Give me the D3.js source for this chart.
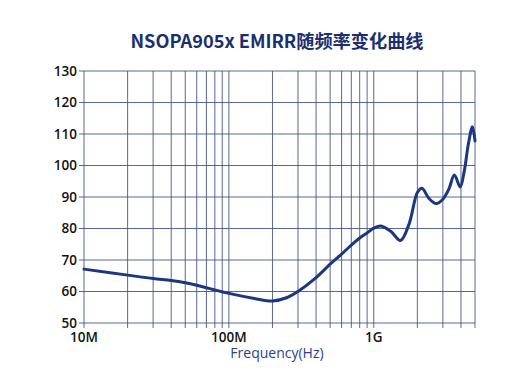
<!DOCTYPE html>
<html>
<head>
<meta charset="utf-8">
<script src="https://cdn.jsdelivr.net/npm/d3@7"></script>
<style>
  body { margin: 0; background: #fff; }
  text { font-family: "Open Sans", "Noto Sans", sans-serif; }
</style>
</head>
<body>
<svg id="chart"></svg>
<script>
// EMIRR curve
const freqs = [10e6, 20e6, 30e6, 40e6, 50e6, 60e6, 70e6, 80e6, 100e6, 150e6, 200e6, 253e6, 300e6, 400e6,
  500e6, 600e6, 700e6, 800e6, 900e6, 1e9, 1.12e9, 1.31e9, 1.53e9, 1.75e9, 2e9, 2.15e9, 2.4e9, 2.7e9, 3e9, 3.3e9, 3.6e9,
  3.95e9, 4.2e9, 4.5e9, 4.8e9, 5e9];
const emirr = [67.1, 65.2, 64.1, 63.5, 62.8, 62.0, 61.2, 60.5, 59.4, 57.8, 57.0, 58.1, 60.0, 64.4,
  68.7, 71.9, 74.7, 77.0, 78.6, 80.1, 80.8, 79.1, 76.2, 81.3, 91.4, 92.8, 89.6, 87.9, 89.3, 92.5, 97.0,
  93.2, 97.8, 106.8, 112.3, 107.8];
const yTicks = [50, 60, 70, 80, 90, 100, 110, 120, 130];
const xGrid = [1, 2, 3, 4, 5, 6, 7, 8, 9, 10, 20, 30, 40, 50, 60, 70, 80, 90, 100, 200, 300, 400, 500].map(d => d * 1e7);
const xLabels = [[1e7, "10M"], [1e8, "100M"], [1e9, "1G"]];

const width = 526, height = 378;
const margin = {top: 71, right: 51, bottom: 55, left: 84};

const svg = d3.select("#chart")
    .attr("width", width)
    .attr("height", height);

const x = d3.scaleLog().domain([1e7, 5e9]).range([margin.left, width - margin.right]);
const y = d3.scaleLinear().domain([50, 130]).range([height - margin.bottom, margin.top]);

const gridColor = "#3d4f86";

// title
svg.append("text")
    .attr("x", 277).attr("y", 48)
    .attr("text-anchor", "middle")
    .attr("font-size", 18.2)
    .attr("font-weight", "bold")
    .attr("fill", "#1b2f6e")
    .style("font-family", "'Noto Sans CJK SC', 'Noto Sans', sans-serif")
    .text("NSOPA905x EMIRR随频率变化曲线");

// grid
const g = svg.append("g");
g.selectAll("line.h")
    .data(yTicks)
    .join("line")
    .attr("x1", margin.left - 5).attr("x2", width - margin.right)
    .attr("y1", d => y(d)).attr("y2", d => y(d))
    .attr("stroke", gridColor).attr("stroke-width", 1).attr("opacity", 0.85);

g.selectAll("line.v")
    .data(xGrid)
    .join("line")
    .attr("x1", d => x(d)).attr("x2", d => x(d))
    .attr("y1", margin.top).attr("y2", height - margin.bottom + 5)
    .attr("stroke", gridColor).attr("stroke-width", 1).attr("opacity", 0.85);

// y labels
svg.append("g").selectAll("text")
    .data(yTicks)
    .join("text")
    .attr("x", margin.left - 7)
    .attr("y", d => y(d))
    .attr("dy", "0.36em")
    .attr("text-anchor", "end")
    .attr("font-size", 13.5)
    .attr("font-weight", 600)
    .attr("fill", "#111")
    .text(d => d);

// x labels
svg.append("g").selectAll("text")
    .data(xLabels)
    .join("text")
    .attr("x", d => x(d[0]))
    .attr("y", height - margin.bottom + 19)
    .attr("text-anchor", "middle")
    .attr("font-size", 13.5)
    .attr("font-weight", 600)
    .attr("fill", "#111")
    .text(d => d[1]);

svg.append("text")
    .attr("x", 277).attr("y", 358)
    .attr("text-anchor", "middle")
    .attr("font-size", 14)
    .attr("font-weight", 500)
    .attr("fill", "#2b3f8e")
    .text("Frequency(Hz)");

// curve
const line = d3.line()
    .x(d => x(d[0]))
    .y(d => y(d[1]))
    .curve(d3.curveCatmullRom.alpha(0.5));

svg.append("path")
    .datum(d3.zip(freqs, emirr))
    .attr("d", line)
    .attr("fill", "none")
    .attr("stroke", "#1c3680")
    .attr("stroke-width", 3)
    .attr("stroke-linecap", "round");
</script>
</body>
</html>
